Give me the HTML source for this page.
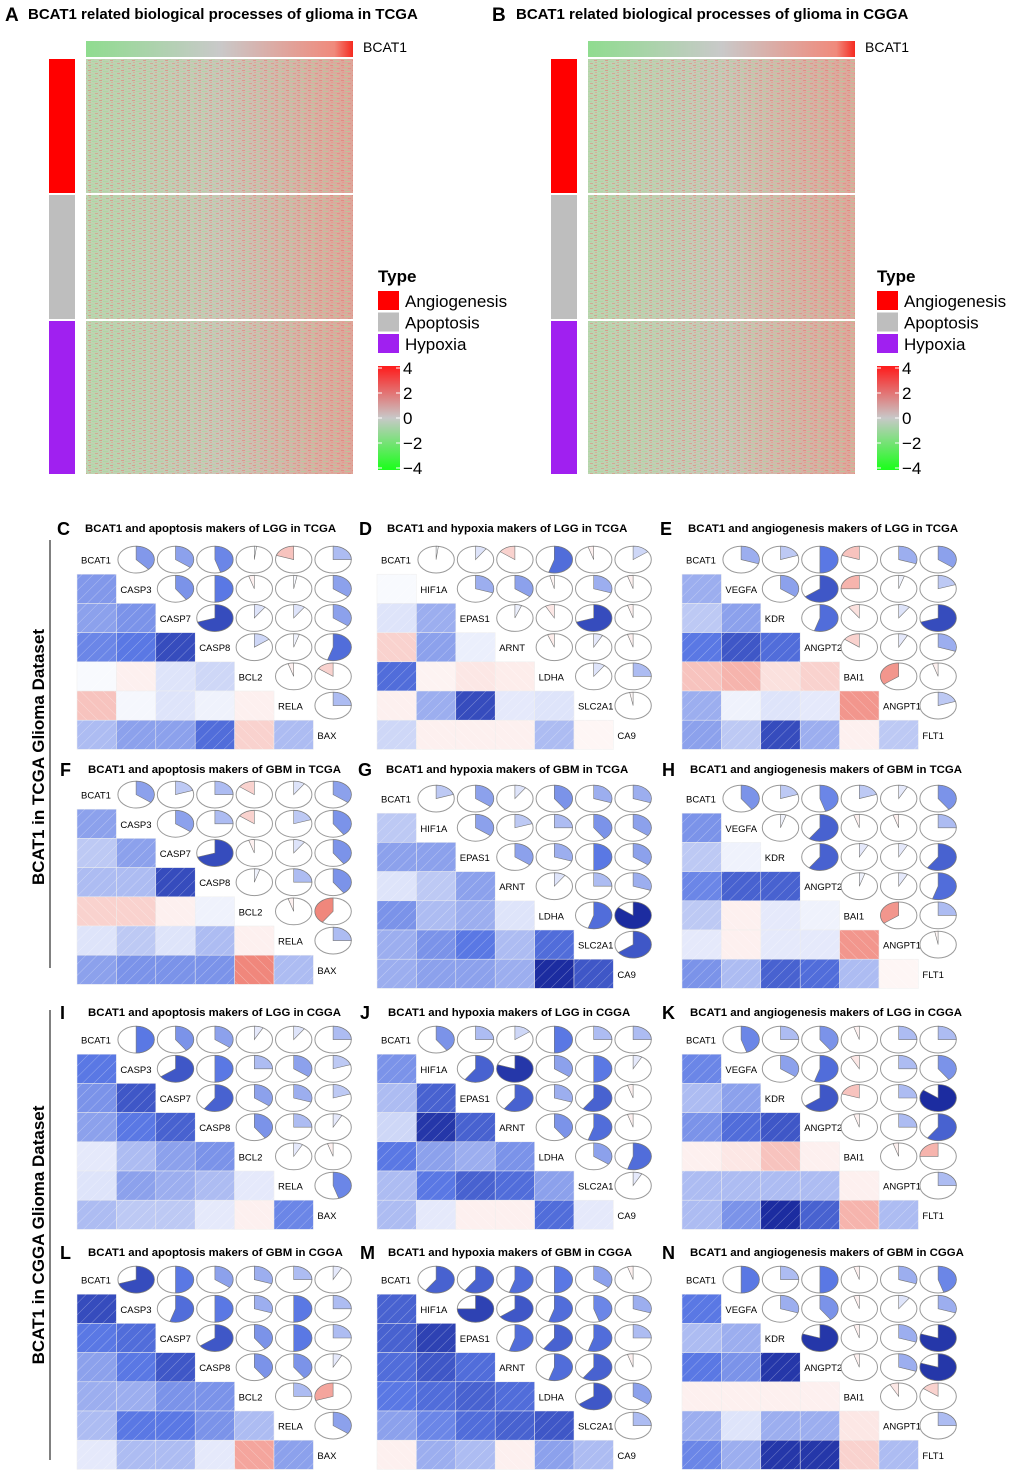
<!DOCTYPE html>
<html><head><meta charset="utf-8">
<style>
html,body{margin:0;padding:0;background:#fff;}
body{width:1020px;height:1478px;overflow:hidden;font-family:"Liberation Sans",sans-serif;}
svg text{font-family:"Liberation Sans",sans-serif;}
</style></head>
<body>
<svg id="fig" width="1020" height="1478" viewBox="0 0 1020 1478" xmlns="http://www.w3.org/2000/svg">
<defs>
<linearGradient id="topbar" x1="0" x2="1" y1="0" y2="0">
<stop offset="0" stop-color="#8fdc8f"/><stop offset="0.5" stop-color="#c9c9c9"/><stop offset="0.93" stop-color="#f08a7c"/><stop offset="1" stop-color="#f52a20"/>
</linearGradient>
<linearGradient id="hmbase" x1="0" x2="1" y1="0" y2="0">
<stop offset="0" stop-color="#bcd4b0"/><stop offset="0.5" stop-color="#cbc6b8"/><stop offset="1" stop-color="#dea69a"/>
</linearGradient>
<pattern id="hmtex" width="11" height="5" patternUnits="userSpaceOnUse">
<rect x="0" y="0" width="3" height="1" fill="#e8706a" opacity="0.5"/>
<rect x="4" y="1" width="5" height="1" fill="#9fdc9a" opacity="0.5"/>
<rect x="1" y="2" width="2" height="1" fill="#ee8a80" opacity="0.45"/>
<rect x="7" y="3" width="3" height="1" fill="#e87a70" opacity="0.45"/>
<rect x="2" y="4" width="4" height="1" fill="#a8d8a0" opacity="0.45"/>
</pattern>
<linearGradient id="scale" x1="0" x2="0" y1="0" y2="1">
<stop offset="0" stop-color="#ff1a1a"/><stop offset="0.5" stop-color="#c8c8c8"/><stop offset="1" stop-color="#1aff1a"/>
</linearGradient>
<pattern id="hatchP" width="8" height="8" patternUnits="userSpaceOnUse" patternTransform="rotate(45)">
<line x1="0" y1="0" x2="0" y2="8" stroke="#fff" stroke-width="0.8" stroke-opacity="0.45"/>
</pattern>
<pattern id="hatchN" width="8" height="8" patternUnits="userSpaceOnUse" patternTransform="rotate(-45)">
<line x1="0" y1="0" x2="0" y2="8" stroke="#fff" stroke-width="0.8" stroke-opacity="0.45"/>
</pattern>
</defs>
<g id="heatmaps"></g>
<g id="corr"></g>
<g>
<line x1="50" y1="540" x2="50" y2="968" stroke="#000" stroke-width="1"/>
<text transform="translate(44,757) rotate(-90)" text-anchor="middle" font-size="17" font-weight="bold">BCAT1 in TCGA Glioma Dataset</text>
<line x1="50" y1="1010" x2="50" y2="1460" stroke="#000" stroke-width="1"/>
<text transform="translate(44,1235) rotate(-90)" text-anchor="middle" font-size="17" font-weight="bold">BCAT1 in CGGA Glioma Dataset</text>
</g>
</svg>
<script>
const NS="http://www.w3.org/2000/svg";
const hmTitles=["BCAT1 related biological processes of glioma in TCGA","BCAT1 related biological processes of glioma in CGGA"];
const hmLetters=["A","B"];
const typeNames=["Angiogenesis","Apoptosis","Hypoxia"];
const typeColors=["#ff0000","#bebebe","#a020f0"];
const scaleTicks=["4","2","0","\u22122","\u22124"];
const labApop=["BCAT1","CASP3","CASP7","CASP8","BCL2","RELA","BAX"];
const labHyp=["BCAT1","HIF1A","EPAS1","ARNT","LDHA","SLC2A1","CA9"];
const labAng=["BCAT1","VEGFA","KDR","ANGPT2","BAI1","ANGPT1","FLT1"];
const valC=[[0.38],[0.35,0.4],[0.45,0.5,0.7],[0.02,-0.05,0.1,0.15],[-0.2,0.03,0.1,0.05,-0.05],[0.25,0.35,0.35,0.55,-0.15,0.25]];
const valD=[[0.02],[0.1,0.3],[-0.15,0.35,0.06],[0.55,-0.04,-0.08,-0.06],[-0.05,0.3,0.7,0.08,0.1],[0.15,-0.05,-0.05,-0.05,0.25,-0.03]];
const valE=[[0.3],[0.2,0.35],[0.5,0.65,0.55],[-0.2,-0.25,-0.1,-0.15],[0.3,0.05,0.1,0.08,-0.35],[0.35,0.2,0.7,0.3,-0.05,0.2]];
const valF=[[0.35],[0.2,0.35],[0.25,0.25,0.7],[-0.15,-0.15,-0.05,0.05],[0.1,0.2,0.1,0.25,-0.05],[0.35,0.4,0.4,0.4,-0.4,0.25]];
const valG=[[0.2],[0.35,0.35],[0.1,0.2,0.35],[0.4,0.25,0.3,0.1],[0.3,0.4,0.5,0.25,0.55],[0.3,0.35,0.35,0.3,0.85,0.65]];
const valH=[[0.4],[0.2,0.05],[0.45,0.6,0.6],[0.2,-0.05,0.08,0.05],[0.08,-0.05,0.08,0.08,-0.35],[0.4,0.25,0.6,0.55,0.25,-0.03]];
const valI=[[0.5],[0.4,0.65],[0.35,0.5,0.6],[0.08,0.25,0.35,0.4],[0.1,0.35,0.3,0.25,0.08],[0.25,0.2,0.2,0.08,-0.05,0.45]];
const valJ=[[0.4],[0.25,0.6],[0.15,0.8,0.6],[0.5,0.35,0.3,0.4],[0.25,0.5,0.6,0.55,0.35],[0.25,0.08,-0.05,-0.05,0.55,0.08]];
const valK=[[0.45],[0.25,0.35],[0.4,0.55,0.65],[-0.05,-0.08,-0.2,-0.05],[0.25,0.25,0.25,0.25,-0.05],[0.25,0.4,0.85,0.6,-0.25,0.25]];
const valL=[[0.7],[0.5,0.55],[0.35,0.5,0.65],[0.3,0.3,0.4,0.4],[0.25,0.5,0.5,0.4,0.25],[0.08,0.25,0.25,0.08,-0.3,0.35]];
const valM=[[0.6],[0.6,0.75],[0.55,0.65,0.55],[0.5,0.55,0.6,0.55],[0.35,0.45,0.55,0.6,0.65],[-0.05,0.3,0.25,-0.05,0.35,0.25]];
const valN=[[0.5],[0.25,0.3],[0.5,0.4,0.8],[-0.05,-0.05,-0.05,-0.05],[0.3,0.1,0.3,0.3,-0.08],[0.45,0.3,0.8,0.8,-0.15,0.25]];

function el(tag,attrs,parent){const e=document.createElementNS(NS,tag);for(const k in attrs)e.setAttribute(k,attrs[k]);parent.appendChild(e);return e;}
function lerp(a,b,t){return a.map((v,i)=>Math.round(v+(b[i]-v)*t));}
function corrColor(r){
  const w=[255,255,255];
  if(r>=0){const m=[90,120,228],d=[10,22,140];
    const c=r<0.5?lerp(w,m,r/0.5):lerp(m,d,Math.min(1,(r-0.5)/0.45));return `rgb(${c})`;}
  const m=[238,120,108];const c=lerp(w,m,Math.min(1,-r/0.45));return `rgb(${c})`;
}

const hmg=document.getElementById('heatmaps');
const letterX=[5,492],titleX=[28,516];
[0,1].forEach(p=>{
  const ox=p*502;
  const g=el('g',{},hmg);
  
  
  const L=el('text',{x:letterX[p],y:21,'font-size':19,'font-weight':'bold'},g);L.textContent=hmLetters[p];
  
  
  const T=el('text',{x:titleX[p],y:19,'font-size':15,'font-weight':'bold'},g);T.textContent=hmTitles[p];
  
  
  const hx=86+ox,hw=267;
  const tb=el('rect',{x:hx,y:41,width:hw,height:16,fill:'url(#topbar)'},g);
  
  
  const bl=el('text',{x:hx+hw+10,y:52,'font-size':14},g);bl.textContent='BCAT1';
  
  
  const bands=[[59,194],[195,320],[321,475]];
  bands.forEach((b,i)=>{
    const hm=el('rect',{x:hx,y:b[0],width:hw,height:b[1]-b[0]-1,fill:'url(#hmbase)'},g);
    
    
    el('rect',{x:hx,y:b[0],width:hw,height:b[1]-b[0]-1,fill:'url(#hmtex)'},g);
    const tbar=el('rect',{x:49+ox,y:b[0],width:26,height:b[1]-b[0]-1,fill:typeColors[i]},g);
    
    
  });
  const lx=378+ox+(p?-3:0);
  const tt=el('text',{x:lx,y:282,'font-size':17,'font-weight':'bold'},g);tt.textContent='Type';
  
  
  typeNames.forEach((n,i)=>{
    const sw=el('rect',{x:lx,y:291+i*21.5,width:21,height:19,fill:typeColors[i]},g);
    
    
    const t=el('text',{x:lx+27,y:307+i*21.5,'font-size':17},g);t.textContent=n;
    
    
  });
  const sc=el('rect',{x:lx,y:366,width:22,height:104,fill:'url(#scale)'},g);
  
  
  scaleTicks.forEach((s,i)=>{
    const y=368+i*25;
    el('line',{x1:lx,x2:lx+4,y1:y,y2:y,stroke:'#fff'},g);
    el('line',{x1:lx+18,x2:lx+22,y1:y,y2:y,stroke:'#fff'},g);
    const t=el('text',{x:lx+25,y:y+6,'font-size':17},g);t.textContent=s;
    
    
  });
});

const panels=[
 {L:"C",t:"BCAT1 and apoptosis makers of LGG in TCGA",lab:labApop,v:valC,x:77,y:545,lx:57,ty:533},
 {L:"D",t:"BCAT1 and hypoxia makers of LGG in TCGA",lab:labHyp,v:valD,x:377,y:545,lx:359,ty:533},
 {L:"E",t:"BCAT1 and angiogenesis makers of LGG in TCGA",lab:labAng,v:valE,x:682,y:545,lx:660,ty:533},
 {L:"F",t:"BCAT1 and apoptosis makers of GBM in TCGA",lab:labApop,v:valF,x:77,y:780,lx:60,ty:774},
 {L:"G",t:"BCAT1 and hypoxia makers of GBM in TCGA",lab:labHyp,v:valG,x:377,y:784,lx:358,ty:774},
 {L:"H",t:"BCAT1 and angiogenesis makers of GBM in TCGA",lab:labAng,v:valH,x:682,y:784,lx:662,ty:774},
 {L:"I",t:"BCAT1 and apoptosis makers of LGG in CGGA",lab:labApop,v:valI,x:77,y:1025,lx:60,ty:1017},
 {L:"J",t:"BCAT1 and hypoxia makers of LGG in CGGA",lab:labHyp,v:valJ,x:377,y:1025,lx:360,ty:1017},
 {L:"K",t:"BCAT1 and angiogenesis makers of LGG in CGGA",lab:labAng,v:valK,x:682,y:1025,lx:662,ty:1017},
 {L:"L",t:"BCAT1 and apoptosis makers of GBM in CGGA",lab:labApop,v:valL,x:77,y:1265,lx:60,ty:1257},
 {L:"M",t:"BCAT1 and hypoxia makers of GBM in CGGA",lab:labHyp,v:valM,x:377,y:1265,lx:360,ty:1257},
 {L:"N",t:"BCAT1 and angiogenesis makers of GBM in CGGA",lab:labAng,v:valN,x:682,y:1265,lx:662,ty:1257}
];
const cg=document.getElementById('corr');
const cw=39.4,ch=29.2;
panels.forEach(P=>{
  const g=el('g',{},cg);
  
  
  const L=el('text',{x:P.lx,y:P.ty+2,'font-size':18,'font-weight':'bold'},g);L.textContent=P.L;
  
  
  const T=el('text',{x:P.lx+28,y:P.ty-1,'font-size':11.4,'font-weight':'bold'},g);T.textContent=P.t;
  
  
  const n=P.lab.length;
  const val=(i,j)=>{const a=Math.max(i,j),b=Math.min(i,j);return P.v[a-1][b];};
  for(let i=0;i<n;i++){
    for(let j=0;j<n;j++){
      const x=P.x+j*cw,y=P.y+i*ch;
      if(i===j){
        const t=el('text',{x:x+4,y:y+ch/2+4,'font-size':9.5},g);t.textContent=P.lab[i];
        
        
      } else if(i>j){
        const r=val(i,j);
        const sq=el('rect',{x:x,y:y,width:cw,height:ch,fill:corrColor(r),stroke:'#eee','stroke-width':0.5},g);
        
        
        el('rect',{x:x,y:y,width:cw,height:ch,fill:r>=0?'url(#hatchP)':'url(#hatchN)'},g);
      } else {
        const r=val(i,j);
        const cx=x+cw/2,cy=y+ch/2,rx=cw/2-1.5,ry=ch/2-1.2;
        const e=el('ellipse',{cx:cx,cy:cy,rx:rx,ry:ry,fill:'#fff',stroke:'#9a9a9a','stroke-width':1},g);
        
        
        const a=Math.abs(r)*2*Math.PI;
        const sx=r>=0?1:-1;
        const ex=cx+sx*rx*Math.sin(a),ey=cy-ry*Math.cos(a);
        const large=a>Math.PI?1:0,sweep=r>=0?1:0;
        const pth=el('path',{d:`M${cx},${cy} L${cx},${cy-ry} A${rx},${ry} 0 ${large} ${sweep} ${ex},${ey} Z`,fill:corrColor(r),stroke:'#777','stroke-width':0.6},g);
        
        
      }
    }
  }
});
</script>
</body></html>
